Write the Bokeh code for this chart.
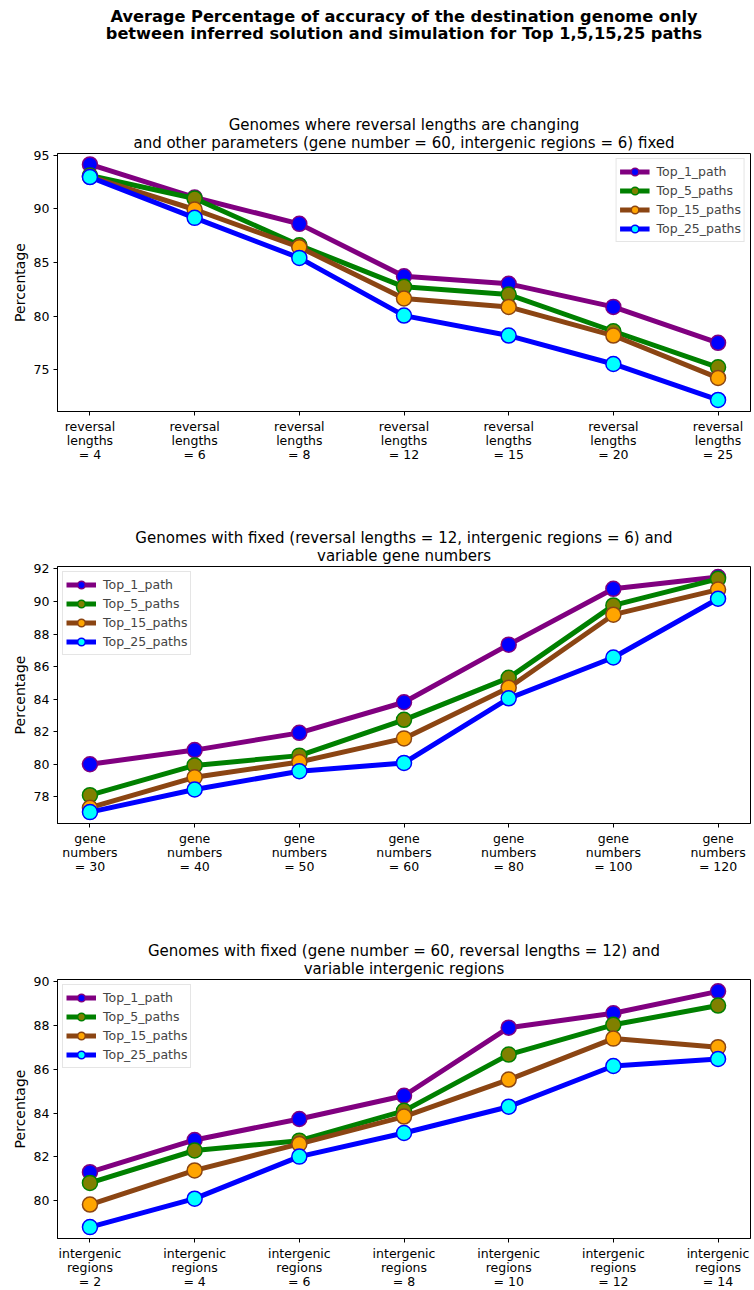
from bokeh.plotting import figure
from bokeh.models import Range1d, Title, FixedTicker, Legend, LegendItem
from bokeh.layouts import column
from bokeh.embed import file_html
from bokeh.resources import INLINE

FONT = "DejaVu Sans"

series_names = ["Top_1_path", "Top_5_paths", "Top_15_paths", "Top_25_paths"]
line_colors = ["purple", "green", "saddlebrown", "blue"]
fill_colors = ["blue", "olive", "orange", "cyan"]

# Plot 1: reversal lengths
rev_labels = ["reversal\nlengths\n= 4", "reversal\nlengths\n= 6", "reversal\nlengths\n= 8",
              "reversal\nlengths\n= 12", "reversal\nlengths\n= 15", "reversal\nlengths\n= 20",
              "reversal\nlengths\n= 25"]
rev_top1 = [94.13, 91.05, 88.59, 83.71, 83.00, 80.85, 77.50]
rev_top5 = [93.10, 90.96, 86.60, 82.72, 82.00, 78.58, 75.22]
rev_top15 = [93.00, 89.93, 86.42, 81.63, 80.85, 78.18, 74.23]
rev_top25 = [92.95, 89.15, 85.42, 80.04, 78.18, 75.53, 72.18]

# Plot 2: gene numbers
gene_labels = ["gene\nnumbers\n= 30", "gene\nnumbers\n= 40", "gene\nnumbers\n= 50",
               "gene\nnumbers\n= 60", "gene\nnumbers\n= 80", "gene\nnumbers\n= 100",
               "gene\nnumbers\n= 120"]
gene_top1 = [80.00, 80.87, 81.93, 83.81, 87.35, 90.78, 91.50]
gene_top5 = [78.10, 79.93, 80.53, 82.73, 85.31, 89.76, 91.39]
gene_top15 = [77.33, 79.20, 80.14, 81.59, 84.70, 89.19, 90.73]
gene_top25 = [77.06, 78.45, 79.57, 80.08, 84.05, 86.56, 90.17]

# Plot 3: intergenic regions
inter_labels = ["intergenic\nregions\n= 2", "intergenic\nregions\n= 4", "intergenic\nregions\n= 6",
                "intergenic\nregions\n= 8", "intergenic\nregions\n= 10", "intergenic\nregions\n= 12",
                "intergenic\nregions\n= 14"]
inter_top1 = [81.30, 82.77, 83.73, 84.79, 87.90, 88.56, 89.56]
inter_top5 = [80.81, 82.29, 82.74, 84.10, 86.67, 88.03, 88.91]
inter_top15 = [79.82, 81.38, 82.59, 83.84, 85.53, 87.40, 87.01]
inter_top25 = [78.79, 80.09, 82.01, 83.09, 84.29, 86.15, 86.47]

main_title = ["Average Percentage of accuracy of the destination genome only",
              "between inferred solution and simulation for Top 1,5,15,25 paths"]
sub1 = ["Genomes where reversal lengths are changing",
        "and other parameters (gene number = 60, intergenic regions = 6) fixed"]
sub2 = ["Genomes with fixed (reversal lengths = 12, intergenic regions = 6) and",
        "variable gene numbers"]
sub3 = ["Genomes with fixed (gene number = 60, reversal lengths = 12) and",
        "variable intergenic regions"]


def title(text, size, style, standoff):
    return Title(text=text, align="center", text_font=FONT,
                 text_font_size=size, text_font_style=style,
                 text_color="black", standoff=standoff)


def make_plot(labels, series, yr, yticks, subtitle, legend_loc,
              top, frame_h, bottom, extra_title=None):
    p = figure(width=754, frame_height=frame_h, title=None,
               x_range=Range1d(-0.31, 6.31), y_range=Range1d(*yr),
               output_backend="svg", toolbar_location=None,
               min_border_left=57, min_border_right=4,
               min_border_top=top, min_border_bottom=bottom)
    p.background_fill_color = "white"
    p.border_fill_color = "white"
    p.outline_line_color = "black"
    p.outline_line_width = 1
    p.outline_line_alpha = 1
    p.grid.visible = False

    # subtitle lines: added from the frame outward
    p.add_layout(title(subtitle[1], "15px", "normal", 4), "above")
    p.add_layout(title(subtitle[0], "15px", "normal", -8), "above")
    if extra_title is not None:
        spacer = Title(text=" ", text_font_size="1px", standoff=80)
        p.add_layout(spacer, "above")
        p.add_layout(title(extra_title[1], "16.2px", "bold", -16), "above")
        p.add_layout(title(extra_title[0], "16.2px", "bold", 8), "above")

    xs = list(range(len(labels)))
    items = []
    for name, ys, lc, fc in zip(series_names, series, line_colors, fill_colors):
        lr = p.line(xs, ys, line_color=lc, line_width=5)
        sr = p.scatter(xs, ys, marker="circle", size=15, fill_color=fc,
                       line_color=lc, line_width=1.5)
        items.append(LegendItem(label=name, renderers=[lr, sr]))

    leg = Legend(items=items, location=legend_loc,
                 label_text_font=FONT, label_text_font_size="12.5px",
                 glyph_width=30, glyph_height=19, label_height=19,
                 spacing=0, padding=3, margin=5, label_standoff=7,
                 border_line_color="#cccccc", border_line_width=1,
                 background_fill_alpha=0.8)
    p.add_layout(leg)

    p.xaxis.ticker = FixedTicker(ticks=xs)
    p.xaxis.major_label_overrides = {i: lab for i, lab in enumerate(labels)}
    p.yaxis.ticker = FixedTicker(ticks=yticks)
    for ax in (p.xaxis, p.yaxis):
        ax.major_label_text_font = FONT
        ax.major_label_text_font_size = "12.5px"
        ax.major_label_text_color = "black"
        ax.major_tick_in = 0
        ax.major_tick_out = 4
        ax.minor_tick_line_color = None
        ax.axis_line_color = "black"
        ax.major_tick_line_color = "black"
    p.xaxis.major_label_standoff = 3
    p.xaxis.major_label_text_line_height = 0.95
    p.yaxis.major_label_standoff = 4
    p.yaxis.axis_label = "Percentage"
    p.yaxis.axis_label_text_font = FONT
    p.yaxis.axis_label_text_font_size = "14px"
    p.yaxis.axis_label_text_font_style = "normal"
    p.yaxis.axis_label_text_color = "black"
    p.yaxis.axis_label_standoff = 3
    return p


p1 = make_plot(rev_labels, [rev_top1, rev_top5, rev_top15, rev_top25],
               (71.1, 95.15), [75, 80, 85, 90, 95], sub1, "top_right",
               top=153, frame_h=258, bottom=55, extra_title=main_title)
p2 = make_plot(gene_labels, [gene_top1, gene_top5, gene_top15, gene_top25],
               (76.36, 92.15), [78, 80, 82, 84, 86, 88, 90, 92], sub2, "top_left",
               top=100, frame_h=257, bottom=55)
p3 = make_plot(inter_labels, [inter_top1, inter_top5, inter_top15, inter_top25],
               (78.27, 90.1), [80, 82, 84, 86, 88, 90], sub3, "top_left",
               top=101, frame_h=259, bottom=52)

layout = column(p1, p2, p3, spacing=0)
open("out.html", "w").write(file_html(layout, INLINE))
